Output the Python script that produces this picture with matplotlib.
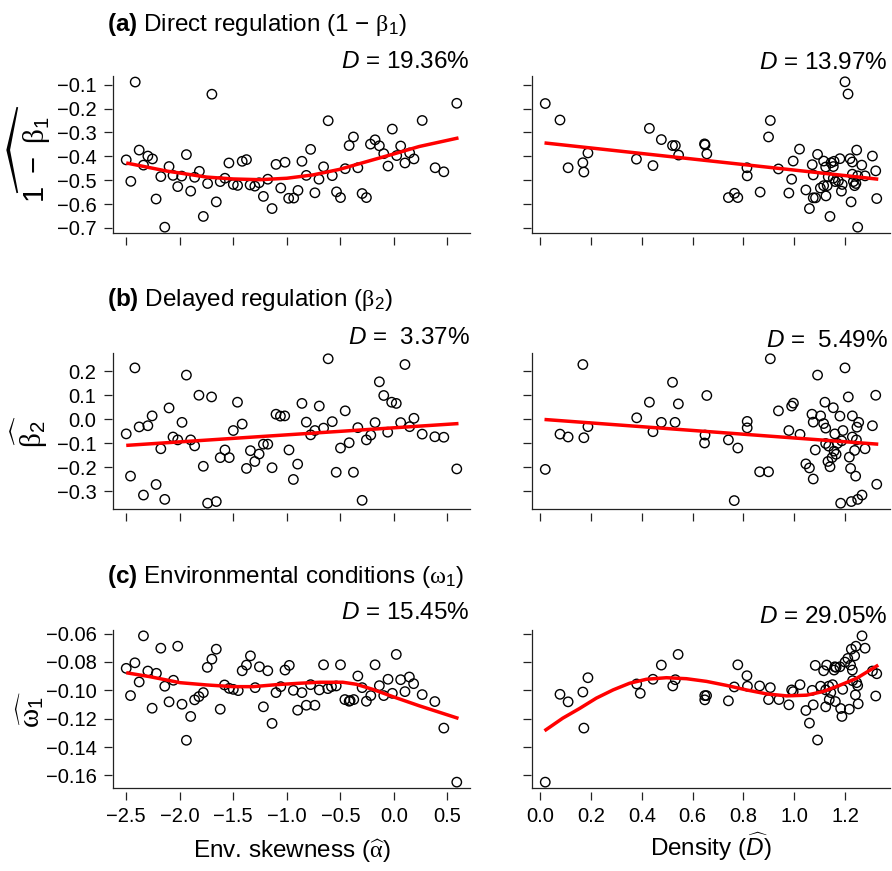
import matplotlib
matplotlib.use('Agg')
import matplotlib.pyplot as plt
import numpy as np

plt.rcParams['font.family'] = ['Liberation Sans', 'DejaVu Sans']
plt.rcParams['mathtext.fontset'] = 'custom'
plt.rcParams['mathtext.rm'] = 'Liberation Sans'
plt.rcParams['mathtext.it'] = 'Liberation Sans:italic'
plt.rcParams['mathtext.bf'] = 'Liberation Sans:bold'
plt.rcParams['mathtext.sf'] = 'Liberation Serif'

# ---------------- data ----------------
# (a) direct regulation vs env. skewness
skew_a = [-2.5, -2.457, -2.416, -2.379, -2.339, -2.298, -2.255, -2.221, -2.177, -2.14,
          -2.1, -2.063, -2.019, -1.982, -1.938, -1.898, -1.861, -1.817, -1.78, -1.74,
          -1.70, -1.659, -1.622, -1.578, -1.541, -1.5, -1.46, -1.417, -1.377, -1.343,
          -1.299, -1.259, -1.219, -1.178, -1.138, -1.101, -1.057, -1.017, -0.983, -0.936,
          -0.896, -0.859, -0.818, -0.778, -0.738, -0.70, -0.657, -0.614, -0.576, -0.536,
          -0.499, -0.455, -0.418, -0.378, -0.337, -0.297, -0.257, -0.219, -0.176, -0.136,
          -0.095, -0.055, -0.015, 0.026, 0.063, 0.103, 0.147, 0.187, 0.264, 0.385,
          0.466, 0.587]
direct_a = [-0.415, -0.505, -0.089, -0.374, -0.437, -0.399, -0.411, -0.579, -0.485, -0.697,
            -0.443, -0.480, -0.527, -0.483, -0.393, -0.546, -0.488, -0.463, -0.652, -0.514,
            -0.140, -0.591, -0.506, -0.492, -0.428, -0.518, -0.522, -0.421, -0.414, -0.520,
            -0.525, -0.511, -0.568, -0.496, -0.619, -0.434, -0.533, -0.425, -0.576, -0.575,
            -0.543, -0.421, -0.480, -0.371, -0.553, -0.496, -0.444, -0.251, -0.481, -0.549,
            -0.573, -0.452, -0.355, -0.319, -0.448, -0.556, -0.573, -0.349, -0.331, -0.356,
            -0.389, -0.441, -0.286, -0.397, -0.357, -0.428, -0.386, -0.411, -0.250, -0.448,
            -0.465, -0.178]
fit_skew_a_x = [-2.5, -2.12, -1.75, -1.5, -1.25, -1.0, -0.756, -0.51, -0.26, 0.0, 0.236, 0.603]
fit_skew_a_y = [-0.428, -0.462, -0.487, -0.495, -0.498, -0.492, -0.478, -0.455, -0.423, -0.390, -0.359, -0.323]

dens_a = [0.020, 0.078, 0.110, 0.168, 0.172, 0.188, 0.379, 0.430, 0.444, 0.477,
          0.521, 0.532, 0.545, 0.647, 0.649, 0.656, 0.741, 0.765, 0.778, 0.814,
          0.815, 0.866, 0.899, 0.906, 0.938, 0.979, 0.990, 0.996, 1.021, 1.046,
          1.060, 1.071, 1.075, 1.075, 1.084, 1.092, 1.103, 1.116, 1.116, 1.124,
          1.125, 1.130, 1.134, 1.141, 1.145, 1.154, 1.154, 1.157, 1.162, 1.174,
          1.180, 1.186, 1.189, 1.200, 1.212, 1.220, 1.224, 1.229, 1.229, 1.233,
          1.238, 1.243, 1.246, 1.250, 1.250, 1.266, 1.279, 1.308, 1.321, 1.325]
direct_a_d = [-0.179, -0.248, -0.448, -0.427, -0.466, -0.386, -0.412, -0.283, -0.439, -0.330,
              -0.355, -0.355, -0.395, -0.348, -0.352, -0.390, -0.573, -0.555, -0.573, -0.448,
              -0.482, -0.550, -0.319, -0.250, -0.453, -0.554, -0.496, -0.420, -0.370, -0.541,
              -0.619, -0.435, -0.478, -0.574, -0.574, -0.392, -0.533, -0.420, -0.523, -0.445,
              -0.566, -0.523, -0.486, -0.652, -0.427, -0.443, -0.492, -0.421, -0.506, -0.503,
              -0.410, -0.546, -0.518, -0.088, -0.139, -0.410, -0.591, -0.424, -0.475, -0.506,
              -0.523, -0.514, -0.374, -0.697, -0.482, -0.437, -0.482, -0.399, -0.461, -0.577]
fit_dens_a_x = [0.017, 1.331]
fit_dens_a_y = [-0.344, -0.496]

# (b) delayed regulation
skew_b = [-2.5, -2.46, -2.419, -2.379, -2.339, -2.298, -2.258, -2.221, -2.177, -2.14,
          -2.1, -2.063, -2.019, -1.979, -1.938, -1.898, -1.861, -1.821, -1.780, -1.740,
          -1.703, -1.659, -1.622, -1.578, -1.538, -1.5, -1.461, -1.417, -1.377, -1.340,
          -1.299, -1.259, -1.219, -1.178, -1.138, -1.101, -1.060, -1.020, -0.980, -0.939,
          -0.899, -0.859, -0.818, -0.778, -0.738, -0.697, -0.657, -0.614, -0.576, -0.539,
          -0.499, -0.455, -0.418, -0.378, -0.337, -0.297, -0.257, -0.216, -0.176, -0.136,
          -0.095, -0.058, -0.021, 0.022, 0.063, 0.103, 0.147, 0.187, 0.264, 0.382,
          0.466, 0.587]
delayed_b = [-0.060, -0.236, 0.215, -0.031, -0.315, -0.026, 0.015, -0.271, -0.122, -0.333,
             0.048, -0.073, -0.085, -0.012, 0.185, -0.085, -0.110, 0.101, -0.195, -0.349,
             0.094, -0.342, -0.159, -0.127, -0.159, -0.046, 0.072, -0.019, -0.204, -0.130,
             -0.175, -0.144, -0.103, -0.103, -0.201, 0.022, 0.014, 0.015, -0.127, -0.250,
             -0.186, 0.067, -0.011, -0.064, -0.046, 0.056, -0.036, 0.253, -0.009, -0.220,
             -0.119, 0.036, -0.097, -0.220, -0.034, -0.337, -0.085, -0.065, -0.013, 0.157,
             0.100, -0.053, 0.072, 0.067, -0.013, 0.229, -0.030, 0.005, -0.061, -0.072,
             -0.074, -0.206]
fit_skew_b_x = [-2.5, 0.603]
fit_skew_b_y = [-0.108, -0.017]

dens_b = [0.020, 0.078, 0.110, 0.168, 0.172, 0.188, 0.380, 0.430, 0.444, 0.477,
          0.521, 0.531, 0.544, 0.649, 0.647, 0.656, 0.741, 0.764, 0.778, 0.815,
          0.815, 0.864, 0.899, 0.906, 0.938, 0.979, 0.990, 0.997, 1.023, 1.046,
          1.060, 1.070, 1.075, 1.075, 1.083, 1.092, 1.104, 1.116, 1.121, 1.124,
          1.124, 1.133, 1.136, 1.141, 1.149, 1.154, 1.157, 1.160, 1.165, 1.170,
          1.180, 1.183, 1.187, 1.192, 1.200, 1.213, 1.217, 1.222, 1.225, 1.229,
          1.229, 1.238, 1.242, 1.245, 1.247, 1.250, 1.254, 1.267, 1.279, 1.308,
          1.321, 1.325]
delayed_b_d = [-0.208, -0.061, -0.073, 0.229, -0.076, -0.030, 0.007, 0.072, -0.051, -0.012,
               0.155, -0.012, 0.065, -0.065, -0.098, 0.100, -0.085, -0.338, -0.119, -0.008,
               -0.035, -0.218, -0.218, 0.253, 0.036, -0.046, 0.056, 0.068, -0.062, -0.185,
               -0.202, 0.022, -0.011, -0.248, -0.127, 0.185, 0.015, -0.017, 0.072, -0.036,
               -0.100, -0.175, -0.111, -0.197, -0.159, 0.049, -0.132, -0.060, -0.145, -0.100,
               0.014, -0.349, -0.089, -0.046, 0.215, 0.094, -0.157, -0.204, -0.342, 0.015,
               -0.073, -0.129, -0.236, -0.085, -0.032, -0.333, -0.012, -0.315, -0.122, -0.026,
               0.101, -0.270]
fit_dens_b_x = [0.017, 1.331]
fit_dens_b_y = [0.0, -0.103]

# (c) environmental conditions
skew_c = [-2.5, -2.46, -2.419, -2.379, -2.339, -2.298, -2.258, -2.218, -2.177, -2.14,
          -2.1, -2.059, -2.019, -1.979, -1.938, -1.898, -1.861, -1.821, -1.78, -1.743,
          -1.70, -1.659, -1.622, -1.582, -1.538, -1.5, -1.454, -1.417, -1.377, -1.340,
          -1.296, -1.256, -1.219, -1.178, -1.138, -1.101, -1.057, -1.017, -0.977, -0.939,
          -0.899, -0.859, -0.818, -0.778, -0.738, -0.697, -0.657, -0.617, -0.583, -0.539,
          -0.499, -0.458, -0.418, -0.409, -0.375, -0.337, -0.297, -0.257, -0.216, -0.176,
          -0.136, -0.095, -0.055, -0.015, 0.022, 0.063, 0.103, 0.144, 0.184, 0.264,
          0.382, 0.466, 0.587]
env_c = [-0.0845, -0.1037, -0.0806, -0.0941, -0.0616, -0.0864, -0.1126, -0.0880, -0.0703, -0.0971,
         -0.1081, -0.0929, -0.0689, -0.1098, -0.1352, -0.1184, -0.1067, -0.1044, -0.1016, -0.0838,
         -0.0780, -0.0710, -0.1133, -0.0962, -0.0986, -0.0993, -0.1002, -0.0862, -0.0822, -0.0757,
         -0.0981, -0.0834, -0.1116, -0.0862, -0.1233, -0.1016, -0.0974, -0.0857, -0.0824, -0.1000,
         -0.1140, -0.1016, -0.1105, -0.0960, -0.1105, -0.0997, -0.0820, -0.0988, -0.0974, -0.0969,
         -0.0820, -0.1065, -0.1077, -0.1072, -0.1065, -0.0899, -0.0981, -0.1077, -0.1037, -0.0820,
         -0.0967, -0.1037, -0.0922, -0.1021, -0.0747, -0.0925, -0.1009, -0.0906, -0.0953, -0.1030,
         -0.1079, -0.1266, -0.1647]
fit_skew_c_x = [-2.5, -2.277, -1.997, -1.749, -1.5, -1.315, -1.098, -0.880, -0.694, -0.477,
                -0.353, -0.198, -0.012, 0.237, 0.603]
fit_skew_c_y = [-0.0876, -0.0904, -0.0946, -0.0962, -0.0974, -0.0974, -0.0960, -0.0950, -0.0943, -0.0943,
                -0.0957, -0.0993, -0.1044, -0.1109, -0.1198]

dens_c = [0.020, 0.078, 0.110, 0.168, 0.172, 0.188, 0.380, 0.394, 0.444, 0.477,
          0.522, 0.532, 0.543, 0.648, 0.648, 0.655, 0.741, 0.764, 0.778, 0.814,
          0.816, 0.864, 0.899, 0.906, 0.940, 0.979, 0.990, 0.996, 1.023, 1.046,
          1.060, 1.071, 1.075, 1.083, 1.092, 1.104, 1.116, 1.124, 1.124, 1.128,
          1.136, 1.138, 1.144, 1.151, 1.157, 1.160, 1.162, 1.165, 1.180, 1.183,
          1.188, 1.191, 1.200, 1.211, 1.217, 1.222, 1.225, 1.229, 1.230, 1.238,
          1.241, 1.243, 1.246, 1.250, 1.252, 1.267, 1.279, 1.308, 1.321, 1.325]
env_c_d = [-0.1647, -0.1028, -0.1081, -0.1012, -0.1266, -0.0911, -0.0955, -0.1021, -0.0922, -0.0822,
           -0.0969, -0.0925, -0.0747, -0.1067, -0.1037, -0.1037, -0.1074, -0.0976, -0.0820, -0.0897,
           -0.0971, -0.0969, -0.1065, -0.0981, -0.1065, -0.1102, -0.0997, -0.1009, -0.0960, -0.1142,
           -0.1231, -0.1000, -0.1102, -0.0824, -0.1350, -0.0971, -0.0862, -0.0997, -0.1116, -0.0822,
           -0.0971, -0.1065, -0.1016, -0.0960, -0.0857, -0.0834, -0.1079, -0.0838, -0.0834, -0.1128,
           -0.1184, -0.0993, -0.0801, -0.0775, -0.1133, -0.0822, -0.0710, -0.0857, -0.0932, -0.0757,
           -0.1032, -0.0689, -0.0946, -0.0967, -0.1095, -0.0616, -0.0703, -0.0864, -0.1040, -0.0883]
fit_dens_c_x = [0.017, 0.089, 0.155, 0.221, 0.287, 0.352, 0.418, 0.497, 0.576, 0.655,
                0.733, 0.812, 0.891, 0.970, 1.049, 1.115, 1.180, 1.246, 1.331]
fit_dens_c_y = [-0.1285, -0.1196, -0.1128, -0.1055, -0.0997, -0.0950, -0.0922, -0.0911, -0.0918, -0.0937,
                -0.0965, -0.0997, -0.1025, -0.1039, -0.1034, -0.1008, -0.0964, -0.0915, -0.0822]

titles = [r"$\mathbf{(a)}$ Direct regulation (1 $-$ $\mathsf{\beta}_1$)",
          r"$\mathbf{(b)}$ Delayed regulation ($\mathsf{\beta}_2$)",
          r"$\mathbf{(c)}$ Environmental conditions ($\mathsf{\omega}_1$)"]
ylabels = [r"$\widehat{\mathrm{1}\ -\ \mathsf{\beta}_1}$", r"$\widehat{\mathsf{\beta}_2}$",
           r"$\widehat{\mathsf{\omega}_1}$"]
dev_left = ["19.36%", " 3.37%", "15.45%"]
dev_right = ["13.97%", " 5.49%", "29.05%"]
xlab_left = r"Env. skewness ($\widehat{\mathsf{\alpha}}$)"
xlab_right = r"Density ($\widehat{D}$)"

yticks = [[-0.1, -0.2, -0.3, -0.4, -0.5, -0.6, -0.7],
          [0.2, 0.1, 0.0, -0.1, -0.2, -0.3],
          [-0.06, -0.08, -0.10, -0.12, -0.14, -0.16]]
yfmt = ["{:.1f}", "{:.1f}", "{:.2f}"]
xticks_left = [-2.5, -2.0, -1.5, -1.0, -0.5, 0.0, 0.5]
xticks_right = [0.0, 0.2, 0.4, 0.6, 0.8, 1.0, 1.2]

rows = [
    (skew_a, direct_a, fit_skew_a_x, fit_skew_a_y, dens_a, direct_a_d, fit_dens_a_x, fit_dens_a_y),
    (skew_b, delayed_b, fit_skew_b_x, fit_skew_b_y, dens_b, delayed_b_d, fit_dens_b_x, fit_dens_b_y),
    (skew_c, env_c, fit_skew_c_x, fit_skew_c_y, dens_c, env_c_d, fit_dens_c_x, fit_dens_c_y),
]

# ---------------- layout ----------------
W, H = 892, 871
fig = plt.figure(figsize=(W / 100, H / 100), dpi=100)

def fx(px):
    return px / W

def fy(py):
    return 1 - py / H

col_x = [(113, 470), (532, 890)]
row_y = [(76, 233), (353, 509), (630, 788)]
title_base = [31, 306, 583]
dev_base_l = [68, 344, 619]
dev_base_r = [69, 347, 623]
ylab_y = [154, 431, 709]
AXC = '#222222'

def style(ax):
    for s in ['top', 'right']:
        ax.spines[s].set_visible(False)
    # ticks are drawn slightly detached from the box lines
    ax.spines['bottom'].set_position(('outward', 3))
    ax.spines['left'].set_position(('outward', 1))
    ax.spines['bottom'].set_visible(False)
    ax.spines['left'].set_visible(False)
    ax.plot([0, 1], [0, 0], transform=ax.transAxes, color=AXC, lw=0.9, clip_on=False,
            solid_capstyle='projecting')
    ax.plot([0, 0], [0, 1], transform=ax.transAxes, color=AXC, lw=0.9, clip_on=False,
            solid_capstyle='projecting')
    ax.tick_params(axis='x', direction='out', length=5.5, width=0.9, color=AXC,
                   labelsize=14.5, pad=5)
    ax.tick_params(axis='y', direction='out', length=5.8, width=0.9, color=AXC,
                   labelsize=14.5, pad=5)
    ax.patch.set_alpha(0)

for r, (xl, yl, fxl, fyl, xr, yr, fxr, fyr) in enumerate(rows):
    (t, b) = row_y[r]
    axL = fig.add_axes([fx(col_x[0][0]), fy(b), fx(col_x[0][1] - col_x[0][0]), (b - t) / H])
    axR = fig.add_axes([fx(col_x[1][0]), fy(b), fx(col_x[1][1] - col_x[1][0]), (b - t) / H])
    for ax, xs, ys, cx, cy in [(axL, xl, yl, fxl, fyl), (axR, xr, yr, fxr, fyr)]:
        ax.scatter(xs, ys, s=46, facecolors='none', edgecolors='black', linewidths=1.0, zorder=2)
        ax.plot(cx, cy, color='#ff0000', lw=2.5, zorder=3, solid_capstyle='butt')
        style(ax)
    # R-style 4% padding; rows share y range
    ymin, ymax = min(min(yl), min(yr)), max(max(yl), max(yr))
    pad = 0.04 * (ymax - ymin)
    axL.set_ylim(ymin - pad, ymax + pad)
    axR.set_ylim(ymin - pad, ymax + pad)
    xmin, xmax = min(xl), max(xl)
    axL.set_xlim(xmin - 0.04 * (xmax - xmin), xmax + 0.04 * (xmax - xmin))
    xmin, xmax = min(xr), max(xr)
    axR.set_xlim(xmin - 0.04 * (xmax - xmin), xmax + 0.04 * (xmax - xmin))

    axL.set_yticks(yticks[r])
    axL.set_yticklabels([yfmt[r].format(v).replace('-', '\u2212') for v in yticks[r]])
    axR.set_yticks(yticks[r])
    axR.set_yticklabels([])
    axL.set_xticks(xticks_left)
    axR.set_xticks(xticks_right)
    if r == 2:
        axL.set_xticklabels(["{:.1f}".format(v).replace('-', '\u2212') for v in xticks_left])
        axR.set_xticklabels(["{:.1f}".format(v) for v in xticks_right])
    else:
        axL.set_xticklabels([])
        axR.set_xticklabels([])

    fig.text(fx(107), fy(title_base[r]), titles[r], fontsize=17.5, ha='left', va='baseline')
    fig.text(fx(470), fy(dev_base_l[r]), r"$D$ = " + dev_left[r], fontsize=17.5,
             ha='right', va='baseline')
    fig.text(fx(888), fy(dev_base_r[r]), r"$D$ = " + dev_right[r], fontsize=17.5,
             ha='right', va='baseline')
    fig.text(fx(30), fy(ylab_y[r]), ylabels[r], fontsize=21, rotation=90,
             ha='center', va='center')

fig.text(fx(292), fy(858), xlab_left, fontsize=17.5, ha='center', va='baseline')
fig.text(fx(711), fy(856), xlab_right, fontsize=17.5, ha='center', va='baseline')

fig.savefig('out.png', dpi=100)
